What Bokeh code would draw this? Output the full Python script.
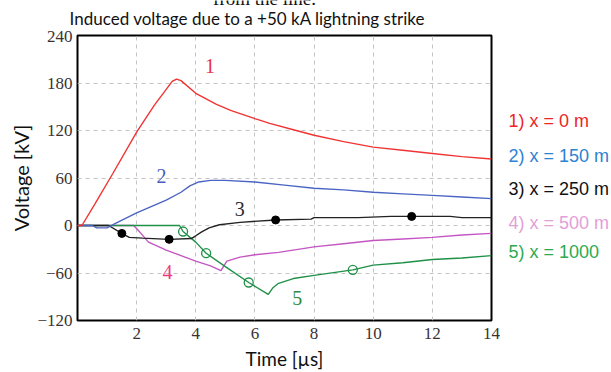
from bokeh.plotting import figure
from bokeh.models import Range1d, FixedTicker, Label
from bokeh.layouts import column, row
from bokeh.core.properties import value
from bokeh.embed import file_html
from bokeh.resources import INLINE

# ---- data ----
t1 = [0.0, 0.15, 0.6, 1.2, 2.0, 2.6, 3.0, 3.2, 3.35, 3.5, 4.0, 4.7, 5.2, 6.0, 6.5, 7.3, 8.0, 9.0, 10.0, 11.0, 12.0, 13.0, 14.0]
v1 = [0, 0, 28, 66, 118, 152, 172, 182, 185, 183, 167, 153, 145, 135, 129, 121, 114, 106, 99, 95, 91, 87, 84]

t2 = [0.0, 0.5, 0.65, 1.0, 1.15, 1.25, 2.0, 3.0, 3.5, 3.8, 4.1, 4.5, 5.0, 6.0, 7.0, 8.0, 9.0, 10.0, 11.0, 12.0, 13.0, 14.0]
v2 = [0, 0, -3, -3, 0, 2, 16, 32, 42, 50, 55, 57, 57, 55, 51, 47, 45, 42, 40, 38, 36, 34]

t3 = [0.0, 1.05, 1.5, 1.75, 2.2, 3.1, 3.85, 4.0, 4.2, 4.45, 4.8, 5.5, 6.7, 7.9, 8.0, 9.5, 10.6, 11.3, 12.6, 13.0, 14.0]
v3 = [0, 0, -10, -15, -16, -17.5, -16.5, -13, -8, -3, 1, 4, 7, 8, 10, 10, 11.5, 11.5, 11.5, 10, 10]

t4 = [0.0, 1.9, 2.1, 2.4, 3.0, 3.5, 4.0, 4.5, 4.85, 5.05, 5.5, 6.0, 6.8, 8.0, 9.0, 10.0, 11.0, 12.0, 13.0, 14.0]
v4 = [0, 0, -8, -21, -31, -38, -45, -51, -57, -45, -40, -37, -34, -27, -23, -19, -17, -15, -12, -10]

t5 = [0.0, 3.45, 3.57, 4.0, 4.35, 5.0, 5.79, 6.45, 6.6, 6.8, 7.3, 8.0, 9.31, 10.0, 11.0, 12.0, 13.0, 14.0]
v5 = [0, 0, -7.6, -21, -35, -52, -72, -87, -79, -73, -67, -63, -56, -50, -47, -43, -41, -38]

mk3_t = [1.5, 3.1, 6.7, 11.3]
mk3_v = [-10, -17.5, 7, 11.5]
mk5_t = [3.57, 4.35, 5.79, 9.31]
mk5_v = [-7.6, -35, -72, -56]

x_ticks = [2, 4, 6, 8, 10, 12, 14]
y_ticks = [-120, -60, 0, 60, 120, 180, 240]
legend_labels = ["1) x = 0 m", "2) x = 150 m", "3) x = 250 m", "4) x = 500 m", "5) x = 1000"]
curve_names = ["1", "2", "3", "4", "5"]
title_text = "Induced voltage due to a +50 kA lightning strike"
caption_text = "from the line."


def blank(width, height, xr, yr, **kw):
    f = figure(width=width, height=height, output_backend="svg", toolbar_location=None,
               x_range=xr, y_range=yr, **kw)
    f.axis.visible = False
    f.grid.visible = False
    f.outline_line_color = None
    f.background_fill_color = "white"
    f.border_fill_color = "white"
    f.title.visible = False
    return f


# ---- top strip: clipped caption + title ----
top = blank(611, 30, Range1d(0, 611), Range1d(30, 0), min_border=0)
top.text(x=[264], y=[-2], text=[caption_text], text_font=value("Liberation Serif"),
         text_font_size="19px", text_color="#111111", text_align="center", text_baseline="middle")
top.text(x=[247], y=[18], text=[title_text], text_font=value("Lato"),
         text_font_size="17px", text_color="#111111", text_align="center", text_baseline="middle")

# ---- main chart ----
p = figure(width=500, height=342, output_backend="svg", toolbar_location=None,
           x_range=Range1d(0, 14), y_range=Range1d(-120, 240),
           min_border_left=77, min_border_right=9, min_border_top=5, min_border_bottom=52)
p.title.visible = False
p.background_fill_color = "white"
p.border_fill_color = "white"
p.outline_line_color = "black"
p.outline_line_width = 2

for ax in (p.xaxis[0], p.yaxis[0]):
    ax.axis_line_color = None
    ax.major_tick_line_color = None
    ax.minor_tick_line_color = None
    ax.major_tick_out = 0
    ax.major_tick_in = 0
    ax.minor_tick_out = 0
    ax.minor_tick_in = 0
    ax.major_label_text_font = "Liberation Serif"
    ax.major_label_text_font_size = "17px"
    ax.major_label_text_color = "#3a3232"
    ax.axis_label_text_font = "Lato"
    ax.axis_label_text_font_style = "normal"
    ax.axis_label_text_color = "#111111"

p.xaxis.axis_label_text_font_size = "19px"
p.yaxis.axis_label_text_font_size = "20px"
p.xaxis.ticker = FixedTicker(ticks=x_ticks)
p.yaxis.ticker = FixedTicker(ticks=y_ticks)
p.xaxis.axis_label = "Time [µs]"
p.yaxis.axis_label = "Voltage [kV]"
p.xaxis.major_label_standoff = 7
p.yaxis.major_label_standoff = 5
p.xaxis.axis_label_standoff = 5
p.yaxis.axis_label_standoff = 1

p.xgrid.ticker = FixedTicker(ticks=[2, 4, 6, 8, 10, 12])
p.ygrid.ticker = FixedTicker(ticks=[-60, 0, 60, 120, 180])
for g in (p.xgrid[0], p.ygrid[0]):
    g.grid_line_color = "#c4c4c4"
    g.grid_line_dash = "4 4"
    g.grid_line_width = 1

colors = ["#f03434", "#4a64c4", "#222222", "#c456c4", "#1f9048"]
p.line(t4, v4, line_color=colors[3], line_width=1.4)
p.line(t5, v5, line_color=colors[4], line_width=1.4)
p.line(t3, v3, line_color=colors[2], line_width=1.4)
p.line(t2, v2, line_color=colors[1], line_width=1.4)
p.line(t1, v1, line_color=colors[0], line_width=1.4)

p.scatter(mk3_t, mk3_v, size=8, marker="circle", fill_color="black", line_color="black")
p.scatter(mk5_t, mk5_v, size=9, marker="circle", fill_color=None, line_color=colors[4], line_width=1.3)

# curve numbers
num_pos = [(4.48, 201), (2.84, 62), (5.49, 21), (3.04, -59), (7.43, -91)]
num_colors = ["#e8304a", "#4a5cc0", "#2a2a2a", "#ee3a84", "#2a8a40"]
for name, (x, y), c in zip(curve_names, num_pos, num_colors):
    p.add_layout(Label(x=x, y=y, text=name, text_font="Liberation Serif", text_font_size="20px",
                       text_color=c, text_align="center", text_baseline="middle"))

# ---- right strip: coloured series key (shares the kV scale) ----
side = blank(111, 342, Range1d(0, 111), p.y_range,
             min_border_left=0, min_border_right=0, min_border_top=5, min_border_bottom=52)
leg_y = [132.5, 88, 46.5, 3.5, -34]
leg_colors = ["#f02424", "#2c82d4", "#111111", "#e2a0d8", "#2eaa50"]
side.text(x=[8] * len(legend_labels), y=leg_y, text=legend_labels, text_font=value("Liberation Sans"),
          text_font_size="18px", text_color=leg_colors, text_align="left", text_baseline="middle")

layout = column(top, row(p, side, spacing=0), spacing=0)
open("out.html", "w").write(file_html(layout, INLINE))
